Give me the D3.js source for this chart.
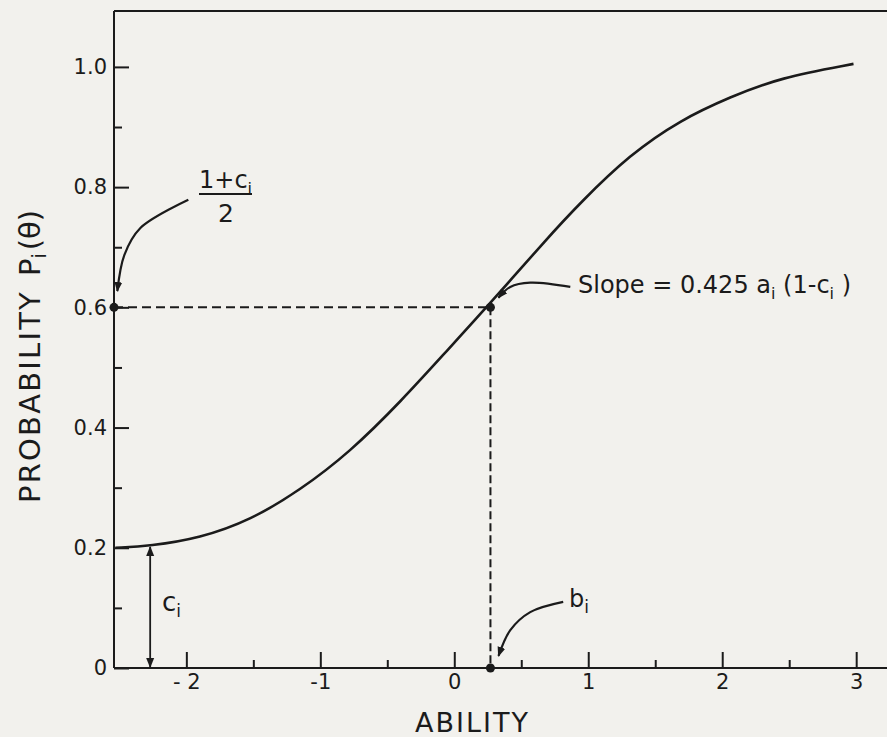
<!DOCTYPE html>
<html>
<head>
<meta charset="utf-8">
<script src="https://cdn.jsdelivr.net/npm/d3@7"></script>
<style>
html, body { margin: 0; padding: 0; background: #f2f1ed; }
svg { display: block; }
text { font-family: "DejaVu Sans", sans-serif; fill: #1b1b1b; }
</style>
</head>
<body>
<svg id="chart"></svg>
<script>
// Item characteristic curve (3-parameter logistic)
const abilityTicks = [-2, -1, 0, 1, 2, 3];
const abilityMinor = [-1.5, -0.5, 0.5, 1.5, 2.5];
const probTicks = [0, 0.2, 0.4, 0.6, 0.8, 1.0];
const probMinor = [0.1, 0.3, 0.5, 0.7, 0.9];

const thetaValues = [-2.53, -2.27, -1.9, -1.52, -1.15, -0.78, -0.4, -0.05, 0.27, 0.69, 0.94, 1.31, 1.69, 2.06, 2.43, 2.98];
const probValues  = [0.200, 0.203, 0.216, 0.246, 0.296, 0.359, 0.443, 0.529, 0.607, 0.714, 0.774, 0.854, 0.912, 0.950, 0.982, 1.005];

const guessC = 0.203;     // c_i (lower asymptote, at the arrow)
const cArrowTheta = -2.27;
const difficultyB = 0.27; // b_i
const midProb = 0.6;      // (1 + c_i) / 2

(function() {
    const width = 887, height = 737;
    const ink = '#1b1b1b';
    const svg = d3.select('#chart').attr('width', width).attr('height', height);

    const x = d3.scaleLinear().domain([-2.54, 3.23]).range([114, 887]);
    const y = d3.scaleLinear().domain([0, 1.093]).range([668, 11]);

    const defs = svg.append('defs');
    defs.append('marker').attr('id', 'arrow')
        .attr('viewBox', '0 0 10 10').attr('refX', 9).attr('refY', 5)
        .attr('markerWidth', 10).attr('markerHeight', 10)
        .attr('markerUnits', 'userSpaceOnUse')
        .attr('orient', 'auto-start-reverse')
        .append('path').attr('d', 'M0,1 L10,5 L0,9 z').attr('fill', ink);

    // frame: left axis, top border, ability axis
    const frame = svg.append('g').attr('stroke', ink).attr('stroke-width', 2).attr('fill', 'none');
    frame.append('line').attr('x1', x(-2.54)).attr('x2', x(-2.54)).attr('y1', y(0)).attr('y2', y(1.093));
    frame.append('line').attr('x1', x(-2.54)).attr('x2', x(3.23)).attr('y1', y(1.093)).attr('y2', y(1.093));
    frame.append('line').attr('x1', x(-2.54)).attr('x2', x(3.23)).attr('y1', y(0)).attr('y2', y(0));

    function styleAxis(g, size) {
        g.select('.domain').remove();
        g.selectAll('line').attr('stroke', ink).attr('stroke-width', 2);
        g.selectAll('text').attr('font-family', '"DejaVu Sans", sans-serif')
            .attr('font-size', size).attr('fill', ink);
    }

    // x axis
    svg.append('g').attr('transform', 'translate(0,' + y(0) + ')')
        .call(d3.axisBottom(x).tickValues(abilityTicks).tickSizeInner(-16).tickSizeOuter(0).tickPadding(6)
            .tickFormat(d => d === -2 ? '- 2' : d < 0 ? '-' + Math.abs(d) : String(d)))
        .call(g => styleAxis(g, 21));
    svg.append('g').attr('transform', 'translate(0,' + y(0) + ')')
        .call(d3.axisBottom(x).tickValues(abilityMinor).tickSizeInner(-8).tickSizeOuter(0).tickFormat(''))
        .call(g => styleAxis(g, 21));

    // y axis
    svg.append('g').attr('transform', 'translate(' + x(-2.54) + ',0)')
        .call(d3.axisLeft(y).tickValues(probTicks).tickSizeInner(-15).tickSizeOuter(0).tickPadding(7)
            .tickFormat(d => d === 0 ? '0' : d.toFixed(1)))
        .call(g => styleAxis(g, 21));
    svg.append('g').attr('transform', 'translate(' + x(-2.54) + ',0)')
        .call(d3.axisLeft(y).tickValues(probMinor).tickSizeInner(-8).tickSizeOuter(0).tickFormat(''))
        .call(g => styleAxis(g, 21));

    // dashed guides to b_i and (1+c)/2
    const guides = svg.append('g').attr('stroke', ink).attr('stroke-width', 2).attr('stroke-dasharray', '9,5');
    guides.append('line').attr('x1', x(-2.54)).attr('x2', x(difficultyB)).attr('y1', y(midProb)).attr('y2', y(midProb));
    guides.append('line').attr('x1', x(difficultyB)).attr('x2', x(difficultyB)).attr('y1', y(midProb)).attr('y2', y(0))
        .attr('stroke-dasharray', '8,4');

    // the curve
    const curve = d3.zip(thetaValues, probValues);
    svg.append('path').datum(curve)
        .attr('fill', 'none').attr('stroke', ink).attr('stroke-width', 2.6)
        .attr('d', d3.line().x(d => x(d[0])).y(d => y(d[1])).curve(d3.curveBasis));

    // dots
    svg.append('g').selectAll('circle')
        .data([[-2.54, midProb], [difficultyB, midProb], [difficultyB, 0]])
        .enter().append('circle')
        .attr('cx', d => x(d[0])).attr('cy', d => y(d[1])).attr('r', 4.5).attr('fill', ink);

    // c_i double arrow
    svg.append('line')
        .attr('x1', x(cArrowTheta)).attr('x2', x(cArrowTheta))
        .attr('y1', y(0) - 1).attr('y2', y(guessC) + 1)
        .attr('stroke', ink).attr('stroke-width', 1.8)
        .attr('marker-start', 'url(#arrow)').attr('marker-end', 'url(#arrow)');

    // curved pointer arrows
    const pointer = d3.line().x(d => x(d[0])).y(d => y(d[1])).curve(d3.curveCatmullRom);
    const pointers = [
        [[-1.985, 0.779], [-2.343, 0.732], [-2.463, 0.687], [-2.515, 0.627]],
        [[0.866, 0.634], [0.567, 0.641], [0.418, 0.634], [0.33, 0.616]],
        [[0.813, 0.110], [0.567, 0.093], [0.418, 0.063], [0.33, 0.02]]
    ];
    svg.append('g').selectAll('path').data(pointers).enter().append('path')
        .attr('d', pointer).attr('fill', 'none').attr('stroke', ink).attr('stroke-width', 2.2)
        .attr('marker-end', 'url(#arrow)');

    // annotations
    function sub(t, main, s, size) {
        t.append('tspan').text(main);
        t.append('tspan').text(s).attr('font-size', size).attr('dy', size * 0.35);
        return t;
    }

    const frac = svg.append('text').attr('x', 199).attr('y', 188).attr('font-size', 24);
    frac.append('tspan').text('1+c');
    frac.append('tspan').text('i').attr('font-size', 16).attr('dy', 6);
    svg.append('line').attr('x1', 199).attr('x2', 252).attr('y1', 194).attr('y2', 194)
        .attr('stroke', ink).attr('stroke-width', 2.2);
    svg.append('text').attr('x', 226).attr('y', 222).attr('font-size', 25).attr('text-anchor', 'middle').text('2');

    const slope = svg.append('text').attr('x', 578).attr('y', 293).attr('font-size', 24);
    slope.append('tspan').text('Slope = 0.425 a');
    slope.append('tspan').text('i').attr('font-size', 16).attr('dy', 6);
    slope.append('tspan').text(' (1-c').attr('dy', -6);
    slope.append('tspan').text('i').attr('font-size', 16).attr('dy', 6);
    slope.append('tspan').text(' )').attr('dy', -6);

    sub(svg.append('text').attr('x', 569).attr('y', 607).attr('font-size', 24), 'b', 'i', 17);
    sub(svg.append('text').attr('x', 162).attr('y', 611).attr('font-size', 26), 'c', 'i', 17);

    svg.append('text').attr('x', 415).attr('y', 732).attr('font-size', 27)
        .attr('letter-spacing', 2).text('ABILITY');

    svg.append('text').attr('transform', 'translate(40,503) rotate(-90)')
        .attr('font-size', 29).attr('letter-spacing', 2.2).text('PROBABILITY');
    const pl = svg.append('text').attr('transform', 'translate(40,276) rotate(-90)').attr('font-size', 29);
    pl.append('tspan').text('P');
    pl.append('tspan').text('i').attr('font-size', 19).attr('dy', 6);
    pl.append('tspan').text('(θ)').attr('dy', -6).attr('dx', 3);
})();
</script>
</body>
</html>
